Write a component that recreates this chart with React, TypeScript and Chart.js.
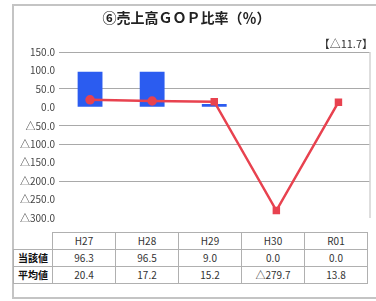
import React, { useEffect, useRef } from "react";
import { Chart, registerables } from "chart.js";

Chart.register(...registerables);

const titleText = "⑥売上高ＧＯＰ比率（％）";
const deltaText = "【△11.7】";
const categories = ["H27", "H28", "H29", "H30", "R01"];
const actualValues = [96.3, 96.5, 9.0, 0.0, 0.0];
const averageValues = [20.4, 17.2, 15.2, -279.7, 13.8];
const rowLabels = ["当該値", "平均値"];
const yMin = -300;
const yMax = 150;
const yStep = 50;
const gridValues = [150, 50, -50, -100, -200];

const fmt = (v: number) => (v < 0 ? "△" + Math.abs(v).toFixed(1) : v.toFixed(1));

const FONT = "'Noto Sans CJK JP', 'Noto Sans', sans-serif";

const rightBorder = {
  id: "rightBorder",
  beforeDatasetsDraw(chart: any) {
    const { ctx, chartArea } = chart;
    ctx.save();
    ctx.strokeStyle = "#bdbdbd";
    ctx.lineWidth = 1;
    ctx.beginPath();
    ctx.moveTo(chartArea.right + 0.5, chartArea.top);
    ctx.lineTo(chartArea.right + 0.5, chartArea.bottom);
    ctx.stroke();
    ctx.restore();
  },
};

export default function App() {
  const ref = useRef<HTMLCanvasElement>(null);

  useEffect(() => {
    if (!ref.current) return;
    const chart = new Chart(ref.current, {
      type: "bar",
      data: {
        labels: categories,
        datasets: [
          {
            type: "line",
            label: rowLabels[1],
            data: averageValues,
            borderColor: "#e8424f",
            backgroundColor: "#e8424f",
            borderWidth: 2.5,
            pointStyle: ["circle", "circle", "rect", "rect", "rect"],
            pointRadius: 3.5,
            pointBackgroundColor: "#e8424f",
            pointBorderColor: "#e8424f",
            order: 0,
          } as any,
          {
            type: "bar",
            label: rowLabels[0],
            data: actualValues,
            backgroundColor: "#2b5cf0",
            borderWidth: 0,
            barPercentage: 0.4,
            categoryPercentage: 1,
            order: 1,
          },
        ],
      },
      options: {
        animation: false,
        responsive: false,
        maintainAspectRatio: false,
        layout: { padding: { left: 0, right: 3, top: 0, bottom: 7 } },
        plugins: {
          legend: { display: false },
          tooltip: { enabled: false },
          title: {
            display: true,
            text: titleText,
            color: "#222",
            font: { family: FONT, size: 14, weight: "bold" },
            padding: { top: 9, bottom: 10 },
          },
          subtitle: {
            display: true,
            text: deltaText,
            align: "end",
            color: "#333",
            font: { family: FONT, size: 11 },
            padding: { top: 1, bottom: 2 },
          },
        },
        scales: {
          x: {
            type: "category",
            display: false,
            offset: true,
            grid: { display: false },
            ticks: { display: false },
            border: { display: false },
          },
          y: {
            min: yMin,
            max: yMax,
            afterFit: (s: any) => {
              s.width = 59;
            },
            ticks: {
              stepSize: yStep,
              padding: 4,
              color: "#444",
              font: { family: FONT, size: 10 },
              callback: (v: any) => fmt(Number(v)),
            },
            grid: {
              drawTicks: false,
              lineWidth: 1,
              color: (c: any) =>
                c.tick && gridValues.includes(c.tick.value) ? "#a9a9a9" : "rgba(0,0,0,0)",
            },
            border: { display: false },
          },
        },
      },
      plugins: [rightBorder],
    });
    return () => chart.destroy();
  }, []);

  const cell: React.CSSProperties = {
    border: "1px solid #b0b0b0",
    height: 16,
    padding: 0,
    textAlign: "center",
    fontSize: 10,
    color: "#333",
    fontFamily: FONT,
    lineHeight: "16px",
  };
  const head: React.CSSProperties = { ...cell, fontWeight: "bold", color: "#111" };

  return (
    <div
      style={{
        position: "absolute",
        left: 0,
        top: 0,
        width: 376,
        height: 301,
        background: "#fff",
        overflow: "hidden",
      }}
    >
      <div
        style={{
          position: "absolute",
          left: 12,
          top: 4,
          width: 380,
          height: 291,
          borderLeft: "2px solid #c4c4c4",
          borderTop: "2px solid #c4c4c4",
          borderBottom: "2px solid #c4c4c4",
        }}
      />
      <canvas
        ref={ref}
        width={376}
        height={228}
        style={{ position: "absolute", left: 0, top: 0, width: 376, height: 228 }}
      />
      <table
        style={{
          position: "absolute",
          left: 13,
          top: 232,
          borderCollapse: "collapse",
          tableLayout: "fixed",
        }}
      >
        <colgroup>
          <col style={{ width: 39 }} />
          {categories.map((c) => (
            <col key={c} style={{ width: 63 }} />
          ))}
        </colgroup>
        <tbody>
          <tr>
            <td style={{ ...cell, borderTop: "none", borderLeft: "none" }}></td>
            {categories.map((c) => (
              <td key={c} style={cell}>
                {c}
              </td>
            ))}
          </tr>
          <tr>
            <td style={head}>{rowLabels[0]}</td>
            {actualValues.map((v, i) => (
              <td key={i} style={cell}>
                {fmt(v)}
              </td>
            ))}
          </tr>
          <tr>
            <td style={head}>{rowLabels[1]}</td>
            {averageValues.map((v, i) => (
              <td key={i} style={cell}>
                {fmt(v)}
              </td>
            ))}
          </tr>
        </tbody>
      </table>
    </div>
  );
}
